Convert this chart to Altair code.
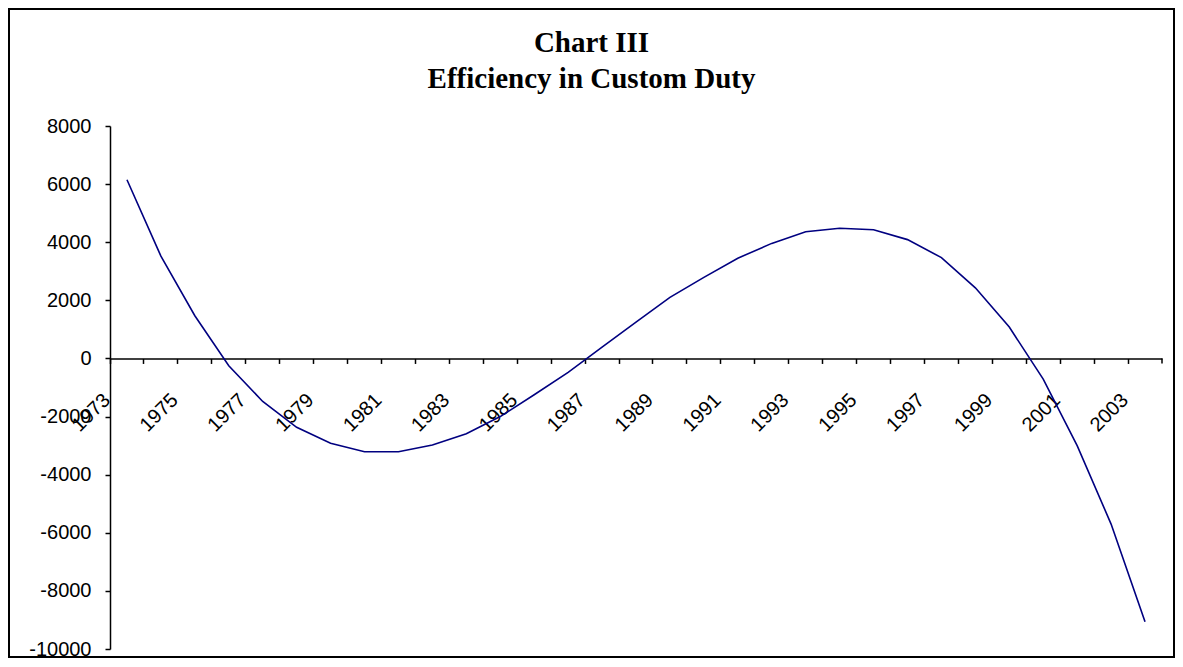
import altair as alt
import pandas as pd

# ---- data ----
years = ["1973", "1974", "1975", "1976", "1977", "1978", "1979", "1980",
         "1981", "1982", "1983", "1984", "1985", "1986", "1987", "1988",
         "1989", "1990", "1991", "1992", "1993", "1994", "1995", "1996",
         "1997", "1998", "1999", "2000", "2001", "2002", "2003"]
values = [6150, 3520, 1470, -250, -1480, -2370, -2920, -3210,
          -3210, -2980, -2590, -2000, -1250, -480, 390, 1250,
          2100, 2790, 3450, 3960, 4360, 4480, 4430, 4090,
          3470, 2430, 1080, -710, -3000, -5700, -9060]
y_ticks = [-10000, -8000, -6000, -4000, -2000, 0, 2000, 4000, 6000, 8000]
title_lines = ["Chart III", "Efficiency in Custom Duty"]

Y_MIN, Y_MAX = -10000, 8000

# ---- layout ----
W, H = 1052, 523
PAD_L, PAD_T, PAD_R, PAD_B = 102, 118, 13, 9
zero_px = H * Y_MAX / (Y_MAX - Y_MIN)

df = pd.DataFrame({"year": years, "value": values})

x_scale = alt.Scale(type="band", paddingInner=0, paddingOuter=0)
y_scale = alt.Scale(domain=[Y_MIN, Y_MAX], nice=False, zero=False)

x_axis = alt.Axis(
    title=None, orient="bottom", offset=-(H - zero_px), bandPosition=0,
    labelAngle=-45, labelAlign="right", labelBaseline="top", labelPadding=26,
    labelOffset=-27,
    labelExpr="(toNumber(datum.value) - 1973) % 2 == 0 ? datum.value : ''",
    labelOverlap=False, labelBound=False, labelFlush=False,
    labelFont="Liberation Sans", labelFontSize=20, labelColor="black",
    tickSize=5, tickColor="black", tickWidth=1.5,
    domainColor="black", domainWidth=1.5, grid=False,
)
y_axis = alt.Axis(
    title=None, values=y_ticks, labelExpr="toString(datum.value)",
    labelFont="Liberation Sans", labelFontSize=20, labelColor="black",
    labelPadding=14, tickSize=5, tickColor="black", tickWidth=1.5,
    domainColor="black", domainWidth=1.5, grid=False,
)

line = alt.Chart(df).mark_line(color="#000080", strokeWidth=1.6).encode(
    x=alt.X("year:O", sort=years, scale=x_scale, axis=x_axis, bandPosition=0.5),
    y=alt.Y("value:Q", scale=y_scale, axis=y_axis),
)

# closing tick at the right end of the category axis
end_tick = alt.Chart(pd.DataFrame({"a": [0]})).mark_rule(
    color="black", strokeWidth=1.5
).encode(x=alt.value(W), y=alt.value(zero_px), y2=alt.value(zero_px + 5))

# outer frame round the whole chart
border = alt.Chart(pd.DataFrame({"a": [0]})).mark_rect(
    filled=False, stroke="black", strokeWidth=2
).encode(
    x=alt.value(-PAD_L + 1), x2=alt.value(W + PAD_R - 1),
    y=alt.value(-PAD_T + 1), y2=alt.value(H + PAD_B - 1),
)

chart = alt.layer(border, line, end_tick).properties(
    width=W, height=H,
    background="white",
    padding={"left": PAD_L, "top": PAD_T, "right": PAD_R, "bottom": PAD_B},
    autosize=alt.AutoSizeParams(type="none"),
    title=alt.TitleParams(
        text=title_lines, font="Liberation Serif", fontSize=29,
        fontWeight="bold", color="black", anchor="middle", frame="bounds",
        baseline="alphabetic", lineHeight=36, offset=0, dy=109,
    ),
).configure_view(stroke="transparent", strokeWidth=0)

chart.save("out.html", embed_options={"renderer": "svg", "actions": False})
